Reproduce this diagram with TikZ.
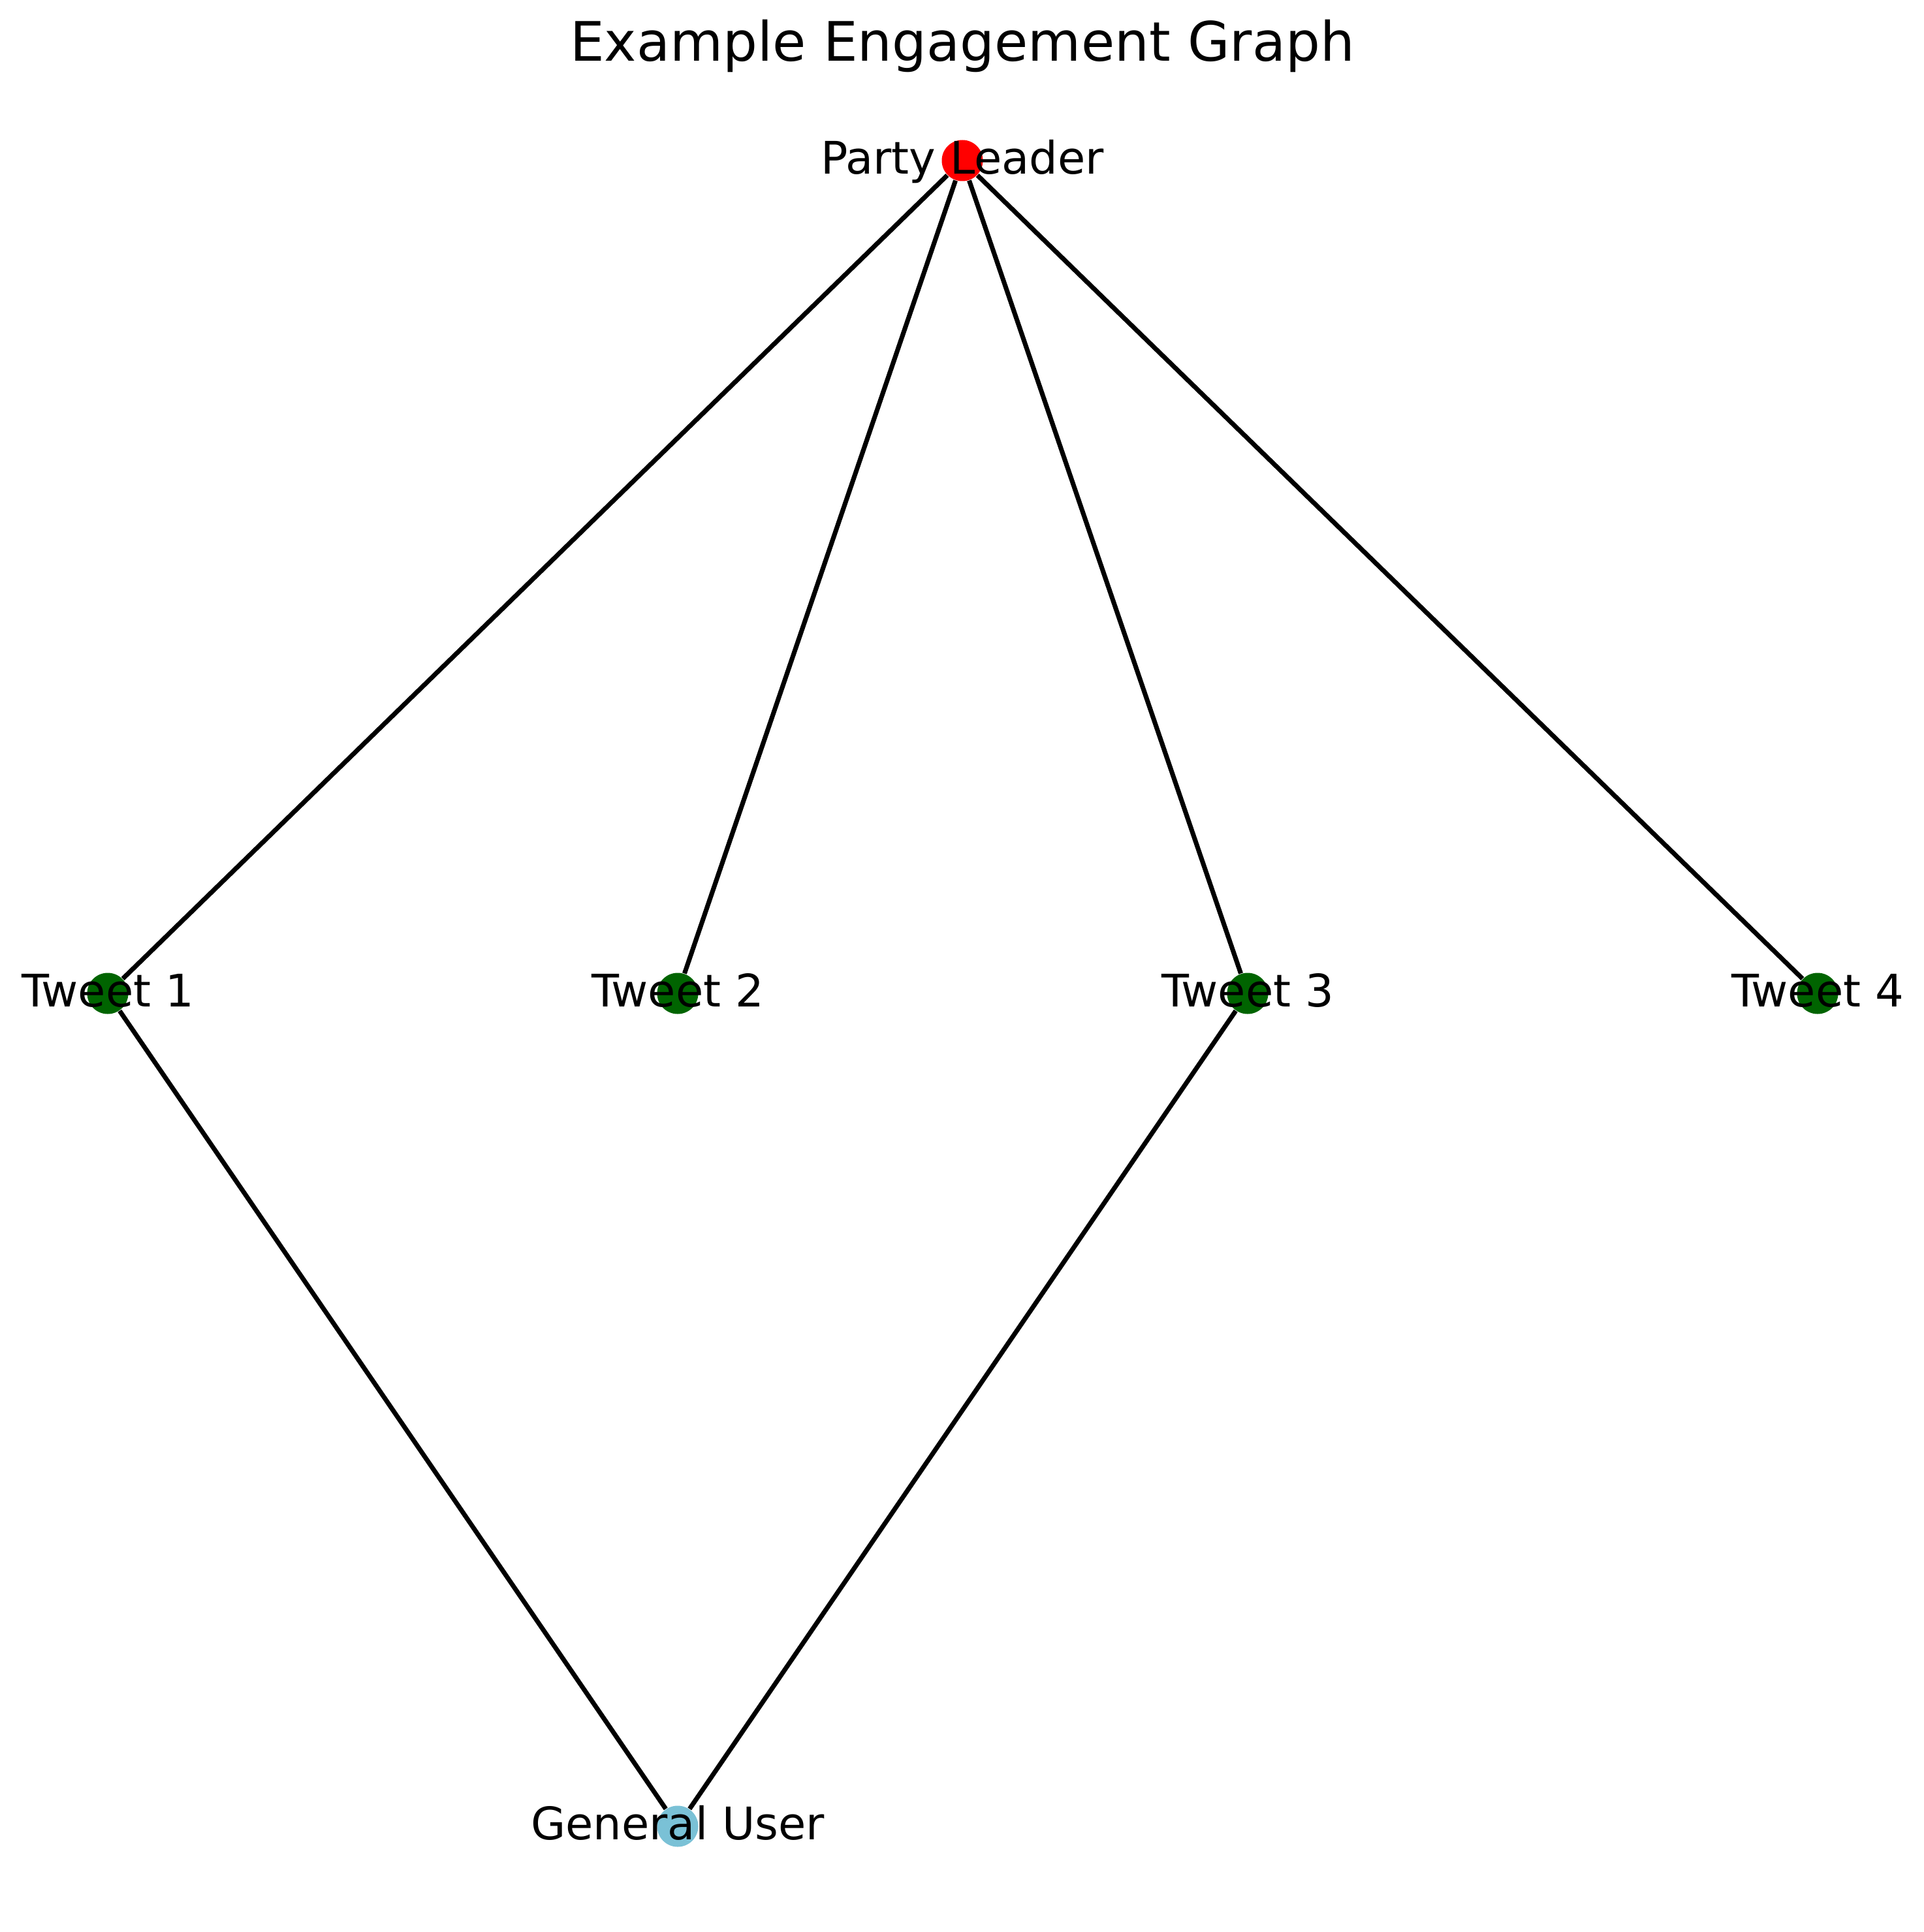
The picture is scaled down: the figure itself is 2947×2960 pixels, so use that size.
\documentclass[tikz,border=0pt]{standalone}
\usepackage{fontspec}
\setmainfont{DejaVu Sans}
\definecolor{leaderred}{RGB}{255,0,0}
\definecolor{tweetgreen}{RGB}{0,100,0}
\definecolor{userblue}{RGB}{122,193,214}
\begin{document}
\begin{tikzpicture}[x=0.24pt,y=-0.24pt,
  vertex/.style={circle,inner sep=0pt,minimum size=63*0.24pt,draw=none},
  lbl/.style={anchor=base,inner sep=0pt,font=\fontsize{16.5}{19}\selectfont},
  edge/.style={line width=1.7pt,black}]
\useasboundingbox (0,0) rectangle (2947,2960);
\fill[white] (0,0) rectangle (2947,2960);
% nodes
\node[vertex,fill=leaderred] (pl) at (1474,246) {};
\node[vertex,fill=tweetgreen] (t1) at (165,1522) {};
\node[vertex,fill=tweetgreen] (t2) at (1038,1522) {};
\node[vertex,fill=tweetgreen] (t3) at (1911,1522) {};
\node[vertex,fill=tweetgreen] (t4) at (2784,1522) {};
\node[vertex,fill=userblue] (gu) at (1038,2798) {};
% edges
\draw[edge] (pl) -- (t1);
\draw[edge] (pl) -- (t2);
\draw[edge] (pl) -- (t3);
\draw[edge] (pl) -- (t4);
\draw[edge] (gu) -- (t1);
\draw[edge] (gu) -- (t3);
% labels
\node[lbl] (lpl) at (1474,267) {Party Leader};
\node[lbl] (lt1) at (165,1542) {Tweet 1};
\node[lbl] (lt2) at (1038,1542) {Tweet 2};
\node[lbl] (lt3) at (1911,1542) {Tweet 3};
\node[lbl] (lt4) at (2784,1542) {Tweet 4};
\node[lbl] (lgu) at (1038,2818) {General User};
% title
\node[anchor=base,inner sep=0pt,font=\fontsize{20}{24}\selectfont] (title) at (1474,94) {Example Engagement Graph};
\end{tikzpicture}
\end{document}
